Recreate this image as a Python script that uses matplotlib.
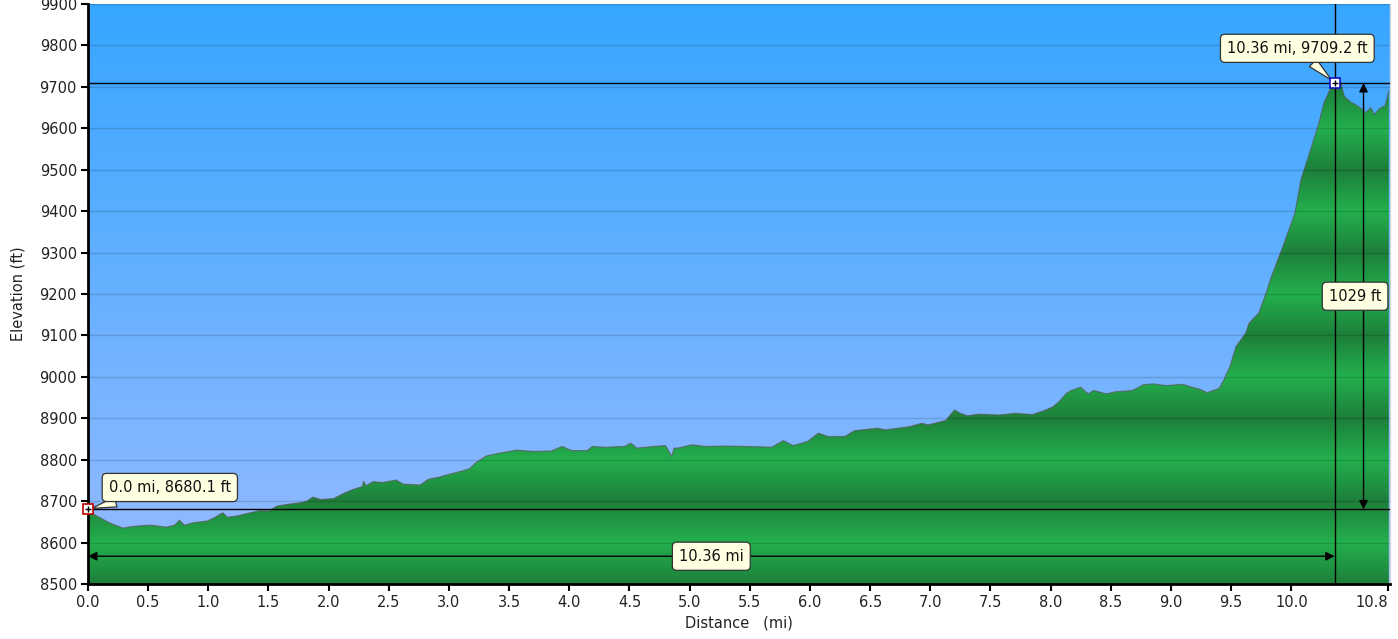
import numpy as np
import matplotlib
matplotlib.use("Agg")
import matplotlib.pyplot as plt
from matplotlib.patches import Polygon
from matplotlib.colors import to_rgb

# Elevation profile
dist_mi = [0.00, 0.03, 0.06, 0.10, 0.15, 0.20, 0.29, 0.35, 0.42, 0.51,
           0.58, 0.65, 0.72, 0.76, 0.80, 0.88, 0.99, 1.05, 1.12, 1.16,
           1.25, 1.35, 1.43, 1.50, 1.57, 1.65, 1.76, 1.82, 1.87, 1.93,
           2.04, 2.12, 2.20, 2.28, 2.29, 2.31, 2.37, 2.45, 2.56, 2.62,
           2.76, 2.83, 2.92, 3.03, 3.10, 3.17, 3.22, 3.31, 3.44, 3.56,
           3.70, 3.85, 3.94, 4.02, 4.15, 4.19, 4.30, 4.46, 4.51, 4.56,
           4.70, 4.80, 4.85, 4.87, 4.90, 5.02, 5.13, 5.30, 5.47, 5.60,
           5.68, 5.78, 5.86, 5.98, 6.07, 6.15, 6.29, 6.37, 6.56, 6.63,
           6.83, 6.93, 6.98, 7.13, 7.20, 7.25, 7.31, 7.40, 7.57, 7.71,
           7.85, 7.96, 8.02, 8.07, 8.13, 8.17, 8.25, 8.31, 8.36, 8.46,
           8.54, 8.68, 8.77, 8.85, 8.96, 9.10, 9.15, 9.24, 9.30, 9.40,
           9.44, 9.49, 9.54, 9.62, 9.65, 9.73, 9.79, 9.83, 9.93, 10.03,
           10.08, 10.16, 10.23, 10.27, 10.32, 10.36, 10.38, 10.41, 10.44, 10.49,
           10.56, 10.62, 10.66, 10.69, 10.73, 10.78, 10.81]
elev_ft = [8680.1, 8672, 8666, 8660, 8652, 8645, 8635, 8638, 8640, 8642,
           8640, 8637, 8642, 8654, 8642, 8648, 8652, 8660, 8672, 8661,
           8665, 8672, 8677, 8676, 8688, 8692, 8696, 8700, 8710, 8704,
           8706, 8718, 8728, 8735, 8748, 8737, 8747, 8745, 8751, 8741,
           8739, 8753, 8758, 8767, 8772, 8778, 8792, 8809, 8817, 8823,
           8820, 8821, 8832, 8822, 8822, 8832, 8830, 8832, 8840, 8828,
           8832, 8834, 8808, 8828, 8828, 8836, 8832, 8833, 8832, 8831,
           8830, 8846, 8834, 8844, 8864, 8856, 8856, 8870, 8876, 8872,
           8880, 8888, 8884, 8895, 8920, 8912, 8906, 8910, 8908, 8912,
           8909, 8920, 8928, 8940, 8960, 8967, 8975, 8959, 8967, 8959,
           8964, 8967, 8981, 8983, 8979, 8982, 8977, 8970, 8962, 8972,
           8993, 9025, 9073, 9105, 9130, 9154, 9202, 9238, 9315, 9395,
           9476, 9548, 9613, 9661, 9693, 9709.2, 9693, 9712, 9677, 9664,
           9652, 9638, 9650, 9633, 9647, 9655, 9690]

start_pt = (0.0, 8680.1)
cursor_pt = (10.36, 9709.2)
gain_ft = 1029
x_ticks = [0.0, 0.5, 1.0, 1.5, 2.0, 2.5, 3.0, 3.5, 4.0, 4.5, 5.0,
           5.5, 6.0, 6.5, 7.0, 7.5, 8.0, 8.5, 9.0, 9.5, 10.0, 10.8]
y_ticks = list(range(8500, 10000, 100))

xmin, xmax = 0.0, 10.82
ymin, ymax = 8500, 9900

fig = plt.figure(figsize=(13.98, 6.39), dpi=100)
ax = fig.add_axes([88 / 1398, 55 / 639, 1302 / 1398, 580 / 639])
ax.set_xlim(xmin, xmax)
ax.set_ylim(ymin, ymax)

# sky gradient
yy = np.linspace(ymin, ymax, 700)
top_c = np.array(to_rgb("#36a6ff"))
bot_c = np.array(to_rgb("#98bbff"))
f = (yy - ymin) / (ymax - ymin)
sky = bot_c[None, :] * (1 - f[:, None]) + top_c[None, :] * f[:, None]
ax.imshow(sky[:, None, :], extent=[xmin, xmax, ymin, ymax], origin="lower",
          aspect="auto", zorder=0, interpolation="bilinear")

# banded green fill (dark on odd hundreds, light on even hundreds)
dark = np.array(to_rgb("#1d7f3a"))
light = np.array(to_rgb("#23b04d"))
t = 1 - np.abs(((yy - ymin) / 100.0) % 2 - 1)
grn = dark[None, :] * (1 - t[:, None]) + light[None, :] * t[:, None]
img = ax.imshow(grn[:, None, :], extent=[xmin, xmax, ymin, ymax], origin="lower",
                aspect="auto", zorder=1, interpolation="bilinear")
verts = list(zip(dist_mi, elev_ft)) + [(dist_mi[-1], ymin), (dist_mi[0], ymin)]
poly = Polygon(verts, closed=True, facecolor="none", edgecolor="none")
ax.add_patch(poly)
img.set_clip_path(poly)
ax.plot(dist_mi, elev_ft, color="#5a5a5a", lw=0.8, alpha=0.75, zorder=2)

# grid
for y in y_ticks[1:]:
    ax.axhline(y, color="k", lw=1, alpha=0.15, zorder=2)

# cursor crosshairs
ax.axhline(start_pt[1], color="k", lw=1, zorder=3)
ax.axhline(cursor_pt[1], color="k", lw=1, zorder=3)
ax.axvline(cursor_pt[0], color="k", lw=1, zorder=3)

bbox = dict(boxstyle="round,pad=0.45,rounding_size=0.3", fc="#ffffe1",
            ec="#333333", lw=0.9)

# distance arrow
arr_y = 8567
ax.annotate("", xy=(cursor_pt[0], arr_y), xytext=(start_pt[0], arr_y),
            arrowprops=dict(arrowstyle="<|-|>", color="k", lw=1,
                            mutation_scale=13, shrinkA=0, shrinkB=0), zorder=4)
ax.text((start_pt[0] + cursor_pt[0]) / 2, arr_y, f"{cursor_pt[0]:.2f} mi",
        ha="center", va="center", fontsize=10.5, color="#111111", bbox=bbox, zorder=5)

# elevation gain arrow
arr_x = 10.6
ax.annotate("", xy=(arr_x, cursor_pt[1]), xytext=(arr_x, start_pt[1]),
            arrowprops=dict(arrowstyle="<|-|>", color="k", lw=1,
                            mutation_scale=13, shrinkA=0, shrinkB=0), zorder=4)
ax.text(10.53, (start_pt[1] + cursor_pt[1]) / 2, f"{gain_ft} ft",
        ha="center", va="center", fontsize=10.5, color="#111111", bbox=bbox, zorder=5)

# callouts
wedge = dict(arrowstyle="wedge,tail_width=0.7", fc="#ffffe1", ec="#333333",
             lw=0.9, shrinkA=0, shrinkB=3)
ax.annotate(f"{start_pt[0]:.1f} mi, {start_pt[1]:.1f} ft", xy=start_pt,
            xytext=(0.68, 8733), ha="center", va="center", fontsize=10.5,
            color="#111111", bbox=bbox, arrowprops=wedge, zorder=6,
            annotation_clip=False)
ax.annotate(f"{cursor_pt[0]:.2f} mi, {cursor_pt[1]:.1f} ft", xy=cursor_pt,
            xytext=(10.05, 9793), ha="center", va="center", fontsize=10.5,
            color="#111111", bbox=bbox, arrowprops=wedge, zorder=6,
            annotation_clip=False)

# point markers
ax.plot(*start_pt, marker="s", ms=7, mfc="white", mec="#c00000", mew=1.2,
        clip_on=False, zorder=7)
ax.plot(*start_pt, marker="+", ms=5, color="k", mew=1, clip_on=False, zorder=8)
ax.plot(*cursor_pt, marker="s", ms=7, mfc="white", mec="#1010c0", mew=1.2,
        clip_on=False, zorder=7)
ax.plot(*cursor_pt, marker="+", ms=5, color="k", mew=1, clip_on=False, zorder=8)

# axes styling
ax.set_xticks(x_ticks)
ax.set_xticklabels([f"{v:.1f}" for v in x_ticks])
ax.get_xticklabels()[-1].set_ha("right")
ax.set_yticks(y_ticks)
ax.set_yticklabels([str(v) for v in y_ticks])
ax.tick_params(axis="both", direction="out", length=5, width=1.5,
               labelsize=10.5, labelcolor="#222222", pad=3)
for side in ("left", "bottom"):
    ax.spines[side].set_linewidth(2)
    ax.spines[side].set_color("k")
ax.spines["top"].set_visible(False)
ax.spines["right"].set_color("#d8d8d8")
ax.spines["right"].set_linewidth(1)
ax.set_xlabel("Distance   (mi)", fontsize=10.5, color="#222222", labelpad=4)
ax.set_ylabel("Elevation (ft)", fontsize=10.5, color="#222222", labelpad=10)

fig.savefig("out.png", dpi=100)
